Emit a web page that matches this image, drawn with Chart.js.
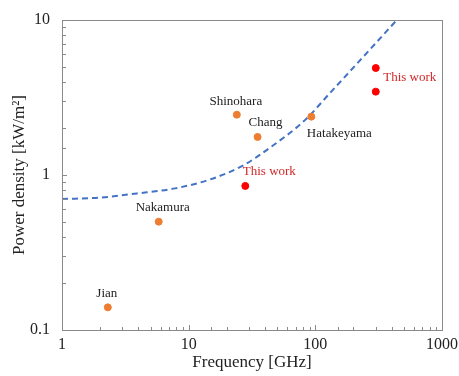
<!DOCTYPE html>
<html>
<head>
<meta charset="utf-8">
<script src="https://cdn.jsdelivr.net/npm/chart.js@4/dist/chart.umd.min.js"></script>
<style>
  html, body { margin: 0; padding: 0; background: #fff; }
  #wrap { width: 459px; height: 376px; }
</style>
</head>
<body>
<div id="wrap"><canvas id="chart" width="459" height="376"></canvas></div>
<script>
// reported results from other groups
const refNames = ['Jian', 'Nakamura', 'Shinohara', 'Chang', 'Hatakeyama'];
const refFreq = [2.3, 5.8, 24, 35, 93];
const refPower = [0.14, 0.50, 2.45, 1.76, 2.38];

// this work
const ourFreq = [28, 300, 300];
const ourPower = [0.85, 4.9, 3.45];

// dashed limit curve
const limitFreq = [1, 2, 3.9, 7.8, 14.7, 26.8, 43.8, 82.8, 130, 238, 440];
const limitPower = [0.70, 0.715, 0.76, 0.82, 0.935, 1.15, 1.50, 2.26, 3.37, 5.77, 10];

const xTicks = [1, 10, 100, 1000];
const yTicks = [0.1, 1, 10];

const serif = '"Liberation Serif", "Times New Roman", serif';
const orange = '#ED7D31';
const red = '#FF0000';

const toPts = (xs, ys) => xs.map((x, i) => ({ x, y: ys[i] }));

// label placement: [dataset, index, text, dx, dy, color]
const labels = [
  [0, 0, refNames[0], -1, -14, '#222'],
  [0, 1, refNames[1], 4, -14, '#222'],
  [0, 2, refNames[2], -1, -13, '#222'],
  [0, 3, refNames[3], 8, -14, '#222'],
  [0, 4, refNames[4], 28, 17, '#222'],
  [1, 0, 'This work', 24, -14, '#D02828'],
  [1, 1, 'This work', 34, 10, '#D02828'],
];

const frame = {
  id: 'frame',
  afterDraw(chart) {
    const { ctx, chartArea: a, scales } = chart;
    ctx.save();
    ctx.strokeStyle = '#8a8a8a';
    ctx.lineWidth = 1;
    ctx.strokeRect(a.left + 0.5, a.top + 0.5, a.right - a.left, a.bottom - a.top);
    // inward ticks
    ctx.beginPath();
    scales.x.ticks.forEach(t => {
      const px = Math.round(scales.x.getPixelForValue(t.value)) + 0.5;
      const len = xTicks.includes(t.value) ? 5 : 3;
      ctx.moveTo(px, a.bottom);
      ctx.lineTo(px, a.bottom - len);
    });
    scales.y.ticks.forEach(t => {
      const py = Math.round(scales.y.getPixelForValue(t.value)) + 0.5;
      const len = yTicks.includes(t.value) ? 5 : 4;
      ctx.moveTo(a.left, py);
      ctx.lineTo(a.left + len, py);
    });
    ctx.stroke();

    ctx.font = '13px ' + serif;
    ctx.textAlign = 'center';
    ctx.textBaseline = 'middle';
    labels.forEach(([ds, i, text, dx, dy, color]) => {
      const p = chart.data.datasets[ds].data[i];
      ctx.fillStyle = color;
      ctx.fillText(text, scales.x.getPixelForValue(p.x) + dx, scales.y.getPixelForValue(p.y) + dy);
    });
    ctx.restore();
  }
};

new Chart(document.getElementById('chart'), {
  type: 'scatter',
  data: {
    datasets: [
      {
        data: toPts(refFreq, refPower),
        backgroundColor: orange,
        borderColor: orange,
        pointRadius: 3.5,
        order: 1,
      },
      {
        data: toPts(ourFreq, ourPower),
        backgroundColor: red,
        borderColor: red,
        pointRadius: 3.5,
        order: 1,
      },
      {
        data: toPts(limitFreq, limitPower),
        showLine: true,
        borderColor: '#4472C4',
        borderWidth: 2,
        borderDash: [6, 4],
        pointRadius: 0,
        cubicInterpolationMode: 'monotone',
        fill: false,
        order: 2,
      },
    ],
  },
  options: {
    responsive: false,
    animation: false,
    events: [],
    layout: { padding: { top: 20, right: 17, left: 0, bottom: 0 } },
    plugins: { legend: { display: false }, tooltip: { enabled: false } },
    scales: {
      x: {
        type: 'logarithmic',
        min: 1,
        max: 1000,
        grid: { display: false, drawTicks: false },
        border: { display: false },
        ticks: {
          autoSkip: false,
          maxRotation: 0,
          padding: 5,
          color: '#222',
          font: { family: serif, size: 16 },
          callback: (v) => (xTicks.includes(v) ? String(v) : ''),
        },
        title: {
          display: true,
          text: 'Frequency [GHz]',
          color: '#222',
          font: { family: serif, size: 17 },
          padding: { top: 0, bottom: 3 },
        },
        afterFit: (s) => { s.height = 46; s.paddingLeft = 0; s.paddingRight = 0; },
      },
      y: {
        type: 'logarithmic',
        min: 0.1,
        max: 10,
        grid: { display: false, drawTicks: false },
        border: { display: false },
        ticks: {
          autoSkip: false,
          padding: 12,
          color: '#222',
          font: { family: serif, size: 16 },
          callback: (v) => (yTicks.includes(v) ? String(v) : ''),
        },
        title: {
          display: true,
          text: 'Power density [kW/m²]',
          color: '#222',
          font: { family: serif, size: 17 },
          padding: { top: 9, bottom: 0 },
        },
        afterFit: (s) => { s.width = 62; s.paddingTop = 0; s.paddingBottom = 0; },
      },
    },
  },
  plugins: [frame],
});
</script>
</body>
</html>
